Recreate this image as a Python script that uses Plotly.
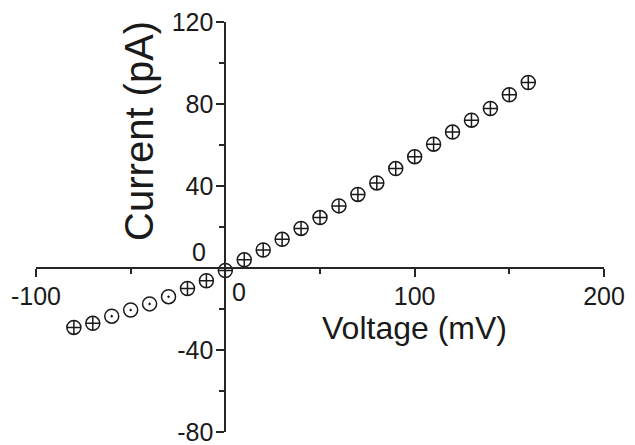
import plotly.graph_objects as go

voltage = [-80, -70, -60, -50, -40, -30, -20, -10, 0, 10, 20, 30, 40, 50,
           60, 70, 80, 90, 100, 110, 120, 130, 140, 150, 160]
current = [-29, -27, -23.5, -20.5, -17.5, -14, -10, -6.2, -1.2, 4.0, 8.8,
           14.0, 19.3, 24.6, 30.3, 35.9, 41.5, 48.5, 54.3, 60.4, 66.3,
           72.1, 77.8, 84.5, 90.5]
dot_voltages = [-60, -50, -40, -30]

x_range = [-100, 200]
y_range = [-80, 120]
x_ticks = [-100, 0, 100, 200]
x_ticklabels = ["-100", "", "100", "200"]
y_ticks = [-80, -40, 0, 40, 80, 120]
y_ticklabels = ["-80", "-40", "", "40", "80", "120"]

font_family = "Liberation Sans, Arial, sans-serif"
axis_color = "#262626"

symbols = ["circle-open-dot" if v in dot_voltages else "circle-cross-open" for v in voltage]

fig = go.Figure()
fig.add_trace(go.Scatter(
    x=voltage, y=current, mode="markers",
    marker=dict(symbol=symbols, size=14, color="#1a1a1a",
                line=dict(width=1.5, color="#1a1a1a")),
    showlegend=False, cliponaxis=False,
))

x_pos = (0 - x_range[0]) / (x_range[1] - x_range[0])
y_pos = (0 - y_range[0]) / (y_range[1] - y_range[0])

fig.update_layout(
    width=635, height=445,
    margin=dict(l=36, r=31, t=22, b=13),
    paper_bgcolor="white", plot_bgcolor="white",
    font=dict(family=font_family, color="#1a1a1a"),
    xaxis=dict(
        range=x_range, anchor="free", position=y_pos, automargin=False,
        tickmode="array", tickvals=x_ticks, ticktext=x_ticklabels,
        ticks="outside", ticklen=8, tickwidth=1.5, tickcolor=axis_color,
        minor=dict(tickmode="array", tickvals=[-50, 50, 150], ticks="outside",
                   ticklen=5, tickwidth=1.5, tickcolor=axis_color),
        showline=True, linecolor=axis_color, linewidth=1.8,
        showgrid=False, zeroline=False, ticklabeloverflow="allow",
        ticklabelstandoff=-2,
        tickfont=dict(size=25, family=font_family, color="#1a1a1a"),
    ),
    yaxis=dict(
        range=y_range, anchor="free", position=x_pos, automargin=False,
        tickmode="array", tickvals=y_ticks, ticktext=y_ticklabels,
        ticks="outside", ticklen=8, tickwidth=1.5, tickcolor=axis_color,
        minor=dict(tickmode="array", tickvals=[-60, -20, 20, 60, 100], ticks="outside",
                   ticklen=5, tickwidth=1.5, tickcolor=axis_color),
        showline=True, linecolor=axis_color, linewidth=1.8,
        showgrid=False, zeroline=False, ticklabeloverflow="allow",
        ticklabelstandoff=-2,
        tickfont=dict(size=25, family=font_family, color="#1a1a1a"),
    ),
)

fig.add_annotation(x=100, y=-29.5, text="Voltage (mV)", showarrow=False,
                   font=dict(size=32, family=font_family, color="#1a1a1a"),
                   xanchor="center", yanchor="middle")
fig.add_annotation(x=-46, y=67, text="Current (pA)", showarrow=False, textangle=-90,
                   font=dict(size=40, family=font_family, color="#1a1a1a"),
                   xanchor="center", yanchor="middle")
fig.add_annotation(x=0, y=0, text="0", showarrow=False, xshift=-26, yshift=16,
                   font=dict(size=25, family=font_family, color="#1a1a1a"))
fig.add_annotation(x=0, y=0, text="0", showarrow=False, xshift=14, yshift=-24,
                   font=dict(size=25, family=font_family, color="#1a1a1a"))

fig.write_html("out.html")
